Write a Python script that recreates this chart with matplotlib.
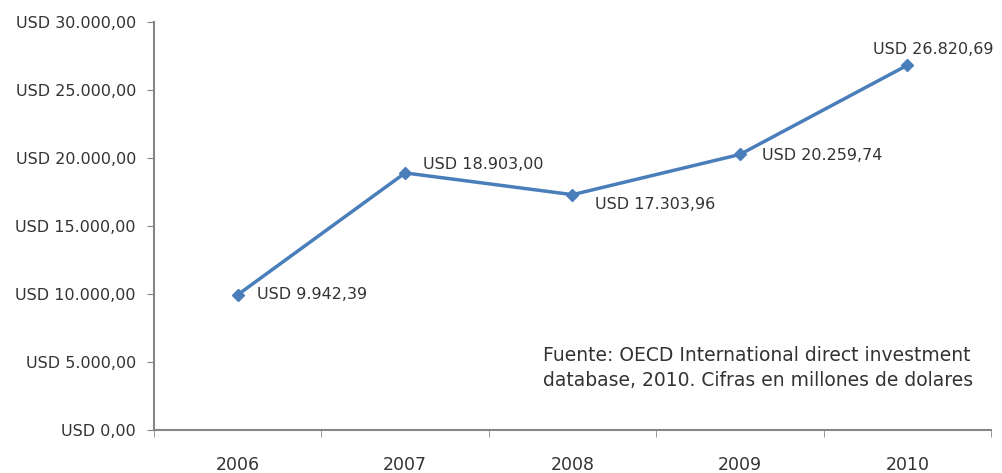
import matplotlib
matplotlib.use("Agg")
import matplotlib.pyplot as plt
from matplotlib.ticker import FixedLocator

years = ["2006", "2007", "2008", "2009", "2010"]
values = [9942.39, 18903.00, 17303.96, 20259.74, 26820.69]
labels = ["USD 9.942,39", "USD 18.903,00", "USD 17.303,96", "USD 20.259,74", "USD 26.820,69"]
yticks = [0, 5000, 10000, 15000, 20000, 25000, 30000]
ytick_labels = ["USD 0,00", "USD 5.000,00", "USD 10.000,00", "USD 15.000,00",
                "USD 20.000,00", "USD 25.000,00", "USD 30.000,00"]
source = "Fuente: OECD International direct investment\ndatabase, 2010. Cifras en millones de dolares"

plt.rcParams['font.family'] = ['DejaVu Sans']

fig = plt.figure(figsize=(10.03, 4.73), dpi=100)
ax = fig.add_axes([154/1003, 1-430/473, (991-154)/1003, (430-22)/473])

x = list(range(len(years)))
color = "#4A7EBB"
ax.plot(x, values, color=color, lw=2.5, marker="D", ms=6.5, mfc=color, mec=color)

ax.set_xlim(-0.5, len(years) - 0.5)
ax.set_ylim(0, 30000)
ax.set_xticks(x)
ax.set_xticklabels(years, fontsize=12.5, color="#333333")
ax.xaxis.set_minor_locator(FixedLocator([i - 0.5 for i in range(len(years) + 1)]))
ax.tick_params(axis="x", which="major", length=0, pad=19)
ax.tick_params(axis="x", which="minor", length=5, color="#868686", direction="out")
ax.set_yticks(yticks)
ax.set_yticklabels(ytick_labels, fontsize=11.5, color="#333333")
ax.tick_params(axis="y", length=5, color="#868686", pad=8)

for s in ["top", "right"]:
    ax.spines[s].set_visible(False)
for s in ["left", "bottom"]:
    ax.spines[s].set_color("#868686")
    ax.spines[s].set_linewidth(1.5)

offsets = [(14, 0), (13, 6), (16, -7), (16, -1), (-25, 11)]
for xi, v, lab, (dx, dy) in zip(x, values, labels, offsets):
    ax.annotate(lab, (xi, v), xytext=(dx, dy), textcoords="offset points",
                ha="left", va="center", fontsize=11.5, color="#333333")

fig.text(543/1003, 1-368/473, source, fontsize=13.5, color="#333333",
         ha="left", va="center", linespacing=1.4)

fig.savefig("out.png", dpi=100)
